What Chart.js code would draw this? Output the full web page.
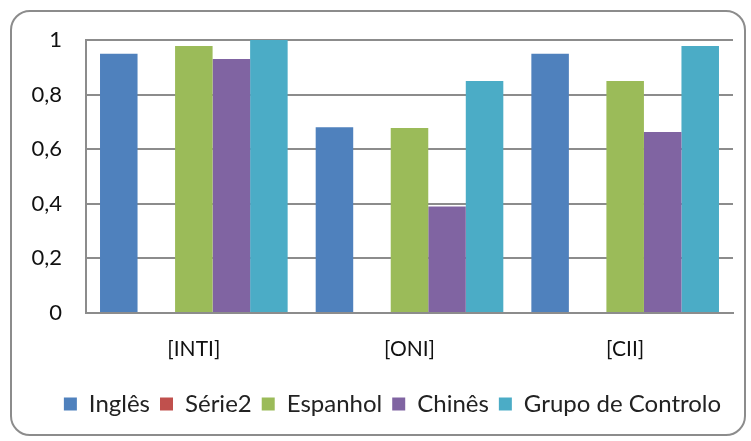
<!DOCTYPE html>
<html>
<head>
<meta charset="utf-8">
<script src="https://cdn.jsdelivr.net/npm/chart.js@4/dist/chart.umd.min.js"></script>
<style>
  body { margin: 0; background: #fff; }
  #frame {
    position: absolute; left: 10px; top: 10px; width: 732px; height: 422px;
    border: 2px solid #8c8c8c; border-radius: 20px;
  }
  #wrap { position: absolute; left: 0; top: 0; width: 751px; height: 441px; }
</style>
</head>
<body>
<div id="frame"></div>
<div id="wrap"><canvas id="chart"></canvas></div>
<script>
const categories = ['[INTI]', '[ONI]', '[CII]'];
const seriesNames = ['Inglês', 'Série2', 'Espanhol', 'Chinês', 'Grupo de Controlo'];
const ingles = [0.95, 0.68, 0.95];
const serie2 = [0, 0, 0];
const espanhol = [0.978, 0.678, 0.85];
const chines = [0.93, 0.39, 0.663];
const grupoControlo = [1.0, 0.85, 0.978];
const yTicks = [0, 0.2, 0.4, 0.6, 0.8, 1];

const colors = ['#4F81BD', '#C0504D', '#9BBB59', '#8064A2', '#4BACC6'];
const allSeries = [ingles, serie2, espanhol, chines, grupoControlo];

// legend sits a bit right of centre in the original
const shiftLegend = {
  id: 'shiftLegend',
  afterLayout(chart) {
    chart.legend.left += 26;
    chart.legend.right += 26;
  }
};

const ctx = document.getElementById('chart').getContext('2d');
Chart.defaults.font.family = 'Lato, "Open Sans", sans-serif';
Chart.defaults.color = '#000';

new Chart(ctx, {
  type: 'bar',
  data: {
    labels: categories,
    datasets: allSeries.map((vals, i) => ({
      label: seriesNames[i],
      data: vals,
      backgroundColor: colors[i],
      borderWidth: 0,
      categoryPercentage: 0.87,
      barPercentage: 1.0
    }))
  },
  options: {
    responsive: true,
    maintainAspectRatio: false,
    animation: false,
    layout: { padding: { top: 40, right: 18, bottom: 15, left: 0 } },
    plugins: {
      legend: {
        position: 'bottom',
        labels: {
          boxWidth: 13, boxHeight: 13, padding: 10,
          color: '#222',
          font: { size: 24 }
        }
      },
      tooltip: { enabled: false }
    },
    scales: {
      x: {
        grid: { display: false, drawTicks: false },
        border: { color: '#8c8c8c', width: 2 },
        ticks: { padding: 24, font: { size: 21 }, color: '#111' },
        afterFit: s => { s.height = 69; }
      },
      y: {
        min: 0, max: 1,
        afterBuildTicks: s => { s.ticks = yTicks.map(v => ({ value: v })); },
        grid: { color: '#8c8c8c', lineWidth: 2, drawTicks: false },
        border: { color: '#8c8c8c', width: 2 },
        ticks: {
          padding: 24, font: { size: 22 }, color: '#111',
          callback: v => String(v).replace('.', ',')
        },
        afterFit: s => { s.width = 86; }
      }
    }
  },
  plugins: [shiftLegend]
});
</script>
</body>
</html>
